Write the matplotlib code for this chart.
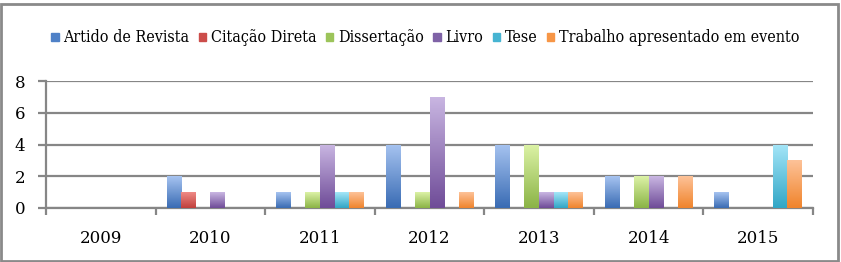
import numpy as np
import matplotlib
matplotlib.use("Agg")
import matplotlib.pyplot as plt
from matplotlib.patches import Rectangle
from matplotlib.colors import LinearSegmentedColormap

years = ["2009", "2010", "2011", "2012", "2013", "2014", "2015"]
series_names = ["Artido de Revista", "Citação Direta", "Dissertação", "Livro", "Tese",
                "Trabalho apresentado em evento"]

artigo = [0, 2, 1, 4, 4, 2, 1]
citacao = [0, 1, 0, 0, 0, 0, 0]
dissertacao = [0, 0, 1, 1, 4, 2, 0]
livro = [0, 1, 4, 7, 1, 2, 0]
tese = [0, 0, 1, 0, 1, 0, 4]
trabalho = [0, 0, 1, 1, 1, 2, 3]

series_values = [artigo, citacao, dissertacao, livro, tese, trabalho]

# (top colour, bottom colour) for the excel-like gradient
grad = [("#a6c3f0", "#3a6cb4"),
        ("#ef8a86", "#c0403c"),
        ("#dcf2a6", "#8bb446"),
        ("#c9b6e2", "#6f4c98"),
        ("#a4e6f8", "#32a6c6"),
        ("#fdc298", "#f0842c")]
legend_cols = ["#4f81c7", "#cc4d4a", "#9cc45a", "#7f62a6", "#46b4d2", "#f79646"]

fig = plt.figure(figsize=(8.41, 2.62), dpi=100)
ax = fig.add_axes([46 / 841, 1 - 208 / 262, (813 - 46) / 841, (208 - 81) / 262])

x = np.arange(len(years))
w = 0.8 / 6
gridc = "#868686"

for i, vals in enumerate(series_values):
    pos = x - 0.4 + w * (i + 0.5)
    bars = ax.bar(pos, vals, w, color="none", edgecolor="none", label=series_names[i])
    cmap = LinearSegmentedColormap.from_list("g%d" % i, [grad[i][1], grad[i][0]])
    for b in bars:
        h = b.get_height()
        if h <= 0:
            continue
        x0 = b.get_x()
        img = np.linspace(0, 1, 64).reshape(-1, 1)
        im = ax.imshow(img, cmap=cmap, origin="lower", aspect="auto",
                       extent=(x0, x0 + w, 0, h), zorder=3)
        im.set_clip_path(b)

ax.set_xlim(-0.5, 6.5)
ax.set_ylim(0, 8)
ax.set_yticks([0, 2, 4, 6, 8])
ax.set_xticks(x)
ax.set_xticklabels(years)
ax.set_xticks(np.arange(-0.5, 7, 1), minor=True)
ax.grid(axis="y", color=gridc, lw=1.6, zorder=1)
ax.set_axisbelow(True)
for s in ["top", "right"]:
    ax.spines[s].set_visible(False)
for s in ["left", "bottom"]:
    ax.spines[s].set_color(gridc)
    ax.spines[s].set_linewidth(1.6)
ax.tick_params(axis="y", length=6, width=1.6, color=gridc, pad=9, labelsize=12)
ax.tick_params(axis="x", which="major", length=0, pad=16, labelsize=12)
ax.tick_params(axis="x", which="minor", length=5, width=1.6, color=gridc)
for lab in ax.get_xticklabels() + ax.get_yticklabels():
    lab.set_family("DejaVu Serif")

handles = [Rectangle((0, 0), 1, 1, color=c) for c in legend_cols]
leg = fig.legend(handles, series_names, loc="center", bbox_to_anchor=(0.506, 1 - 38 / 262),
                 ncol=6, frameon=False, handlelength=0.45, handleheight=0.45,
                 handletextpad=0.3, columnspacing=0.6,
                 prop={"family": "DejaVu Serif", "stretch": "condensed", "size": 11.5})

fig.patches.append(Rectangle((1 / 841, 1 / 262), 837 / 841, 257 / 262, transform=fig.transFigure,
                             fill=False, edgecolor="#8a8a8a", lw=2))

fig.savefig("out.png", dpi=100)
